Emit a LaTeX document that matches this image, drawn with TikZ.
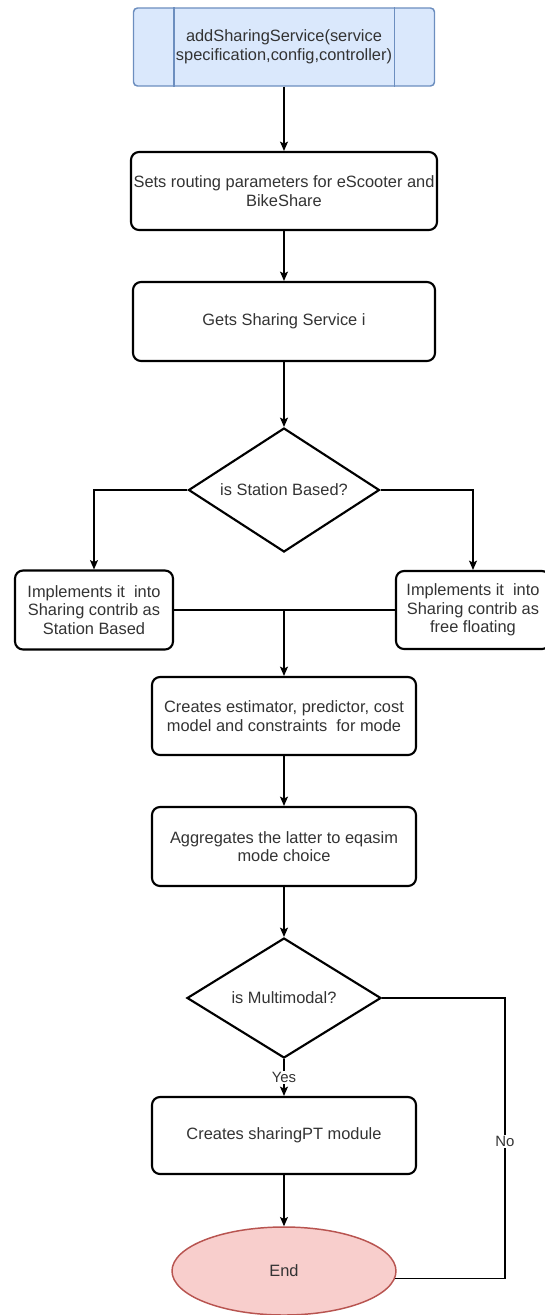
\documentclass[tikz,border=0pt]{standalone}
\usepackage{fontspec}
\setmainfont{Liberation Sans}
\usetikzlibrary{shapes.geometric,arrows.meta,calc}
\definecolor{procfill}{HTML}{DAE8FC}
\definecolor{procline}{HTML}{6C8EBF}
\definecolor{endfill}{HTML}{F8CECC}
\definecolor{endline}{HTML}{B85450}
\definecolor{txt}{HTML}{333333}
\begin{document}
\begin{tikzpicture}[x=0.75pt,y=-0.75pt,
  every node/.style={font=\fontsize{12.3}{14}\selectfont, text=txt, align=center},
  stepbox/.style={draw=black, line width=1.6pt, rounded corners=6pt, fill=white, inner sep=0pt},
  procbox/.style={draw=procline, fill=procfill, line width=1.1pt, rounded corners=3pt, inner sep=0pt,
    minimum width=301*0.75pt, minimum height=78*0.75pt},
  decision/.style={draw=black, shape=diamond, line width=1.6pt, fill=white, inner sep=0pt, aspect=1.6},
  terminal/.style={draw=endline, fill=endfill, shape=ellipse, line width=1.1pt, inner sep=0pt,
    minimum width=224*0.75pt, minimum height=88*0.75pt},
  link/.style={draw=black, line width=1pt},
  arrow/.style={link, -{Stealth[length=7pt,width=6pt,inset=1.5pt]}},
  edgelabel/.style={fill=white, inner sep=1pt, font=\fontsize{11.2}{13}\selectfont}
]
\useasboundingbox (0,0) rectangle (545,1315);

% process steps
\node[procbox] (start) at (284,47) {addSharingService(service\\specification,config,controller)};
\draw[procline, line width=1.1pt] ([xshift=41*0.75pt]start.north west) -- ([xshift=41*0.75pt]start.south west);
\draw[procline, line width=1.1pt] ([xshift=-41*0.75pt]start.north east) -- ([xshift=-41*0.75pt]start.south east);

\node[stepbox, minimum width=306*0.75pt, minimum height=78*0.75pt] (routing) at (284,191)
  {Sets routing parameters for eScooter and\\BikeShare};
\node[stepbox, minimum width=302*0.75pt, minimum height=79*0.75pt] (gets) at (284,321.5)
  {Gets Sharing Service i};
\node[decision, minimum width=191*0.75pt, minimum height=124*0.75pt] (station) at (284,490)
  {is Station Based?};
\node[stepbox, minimum width=158*0.75pt, minimum height=79*0.75pt] (sbased) at (94,610)
  {Implements it\ \ into\\Sharing contrib as\\Station Based};
\node[stepbox, minimum width=154*0.75pt, minimum height=78*0.75pt] (ffloat) at (473,610)
  {Implements it\ \ into\\Sharing contrib as\\free floating};
\node[stepbox, minimum width=264*0.75pt, minimum height=78*0.75pt] (estim) at (284,716)
  {Creates estimator, predictor, cost\\model and constraints\ \ for mode};
\node[stepbox, minimum width=264*0.75pt, minimum height=79*0.75pt] (aggr) at (284,846.5)
  {Aggregates the latter to eqasim\\mode choice};
\node[decision, minimum width=194*0.75pt, minimum height=120*0.75pt] (multi) at (284,998)
  {is Multimodal?};
\node[stepbox, minimum width=264*0.75pt, minimum height=77*0.75pt] (ptmod) at (284,1135.5)
  {Creates sharingPT module};
\node[terminal] (end) at (284,1271) {End};

% connectors
\draw[arrow] (start.south) -- (routing.north);
\draw[arrow] (routing.south) -- (gets.north);
\draw[arrow] (gets.south) -- (station.north);
\draw[arrow] (station.west) -| (sbased.north);
\draw[arrow] (station.east) -| (ffloat.north);
\draw[link] (sbased.east) -- (ffloat.west);
\draw[arrow] (sbased.east -| estim.north) -- (estim.north);
\draw[arrow] (estim.south) -- (aggr.north);
\draw[arrow] (aggr.south) -- (multi.north);
\draw[arrow] (multi.south) -- node[edgelabel] {Yes} (ptmod.north);
\draw[arrow] (ptmod.south) -- (end.north);
\coordinate (nobend) at (505,998);
\draw[link] (multi.east) -- (nobend) |- (end.-4.7) node[edgelabel, pos=0.255] {No};
\end{tikzpicture}
\end{document}
